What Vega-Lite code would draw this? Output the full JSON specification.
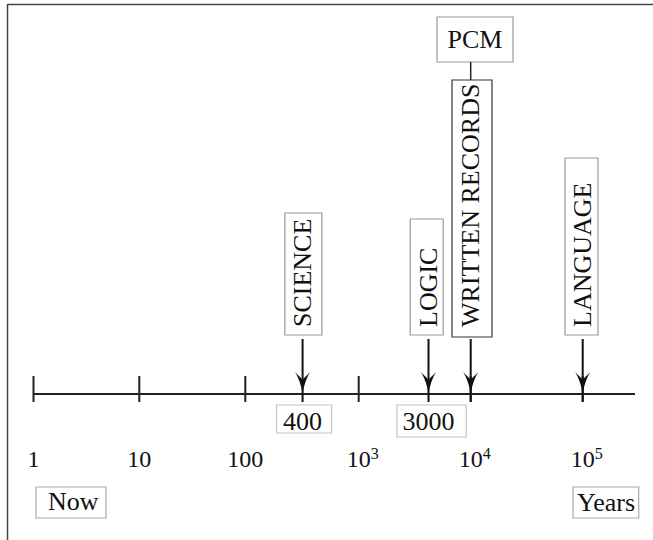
{
  "$schema": "https://vega.github.io/schema/vega-lite/v6.json",
  "autosize": {"type": "none"},
  "width": 646,
  "height": 536,
  "padding": {"left": 7, "top": 4, "right": 0, "bottom": 0},
  "config": {"view": {"stroke": null}, "text": {"font": "Liberation Serif", "fill": "#111"}},
  "datasets": {
    "one": [{}],
    "ticks": [
      {"years": 1, "base": "1"},
      {"years": 10, "base": "10"},
      {"years": 100, "base": "100"},
      {"years": 1000, "base": "10", "exp": "3"},
      {"years": 10000, "base": "10", "exp": "4"},
      {"years": 100000, "base": "10", "exp": "5"}
    ],
    "events": [
      {"event": "SCIENCE", "years": 320, "ago": "400"},
      {"event": "LOGIC", "years": 4200, "ago": "3000"},
      {"event": "WRITTEN RECORDS", "years": 10000, "note": "PCM"},
      {"event": "LANGUAGE", "years": 100000}
    ],
    "ends": [
      {"years": 1, "label": "Now"},
      {"years": 100000, "label": "Years"}
    ]
  },
  "layer": [
    {
      "data": {"name": "one"},
      "mark": {"type": "rule", "stroke": "#444", "strokeWidth": 1.5},
      "encoding": {
        "x": {"datum": 0.568, "type": "quantitative", "scale": {"type": "log", "domain": [1, 10, 100, 1000, 10000, 100000], "range": [26.5, 132.3, 238.3, 351.7, 463.7, 575.7], "nice": false}, "axis": null},
        "y": {"datum": -150, "type": "quantitative", "scale": {"domain": [-146, 390], "nice": false, "zero": false}, "axis": null},
        "y2": {"datum": 390}
      }
    },
    {
      "data": {"name": "one"},
      "mark": {"type": "rule", "stroke": "#444", "strokeWidth": 1.5},
      "encoding": {
        "x": {"datum": 0.568, "type": "quantitative", "scale": {"type": "log", "domain": [1, 10, 100, 1000, 10000, 100000], "range": [26.5, 132.3, 238.3, 351.7, 463.7, 575.7], "nice": false}, "axis": null},
        "x2": {"datum": 1000000},
        "y": {"datum": 389.5, "type": "quantitative", "scale": {"domain": [-146, 390], "nice": false, "zero": false}, "axis": null}
      }
    },
    {
      "data": {"name": "one"},
      "mark": {"type": "rule", "stroke": "#222", "strokeWidth": 2},
      "encoding": {
        "x": {"datum": 1, "type": "quantitative", "scale": {"type": "log", "domain": [1, 10, 100, 1000, 10000, 100000], "range": [26.5, 132.3, 238.3, 351.7, 463.7, 575.7], "nice": false}, "axis": null},
        "x2": {"datum": 293000},
        "y": {"datum": 0, "type": "quantitative", "scale": {"domain": [-146, 390], "nice": false, "zero": false}, "axis": null}
      }
    },
    {
      "data": {"name": "ticks"},
      "mark": {"type": "rule", "stroke": "#222", "strokeWidth": 2},
      "encoding": {
        "x": {"field": "years", "type": "quantitative", "scale": {"type": "log", "domain": [1, 10, 100, 1000, 10000, 100000], "range": [26.5, 132.3, 238.3, 351.7, 463.7, 575.7], "nice": false}, "axis": null},
        "y": {"datum": -8, "type": "quantitative", "scale": {"domain": [-146, 390], "nice": false, "zero": false}, "axis": null},
        "y2": {"datum": 18}
      }
    },
    {
      "data": {"name": "ticks"},
      "mark": {"type": "text", "fontSize": 24, "align": "center", "baseline": "alphabetic"},
      "encoding": {
        "x": {"field": "years", "type": "quantitative", "scale": {"type": "log", "domain": [1, 10, 100, 1000, 10000, 100000], "range": [26.5, 132.3, 238.3, 351.7, 463.7, 575.7], "nice": false}, "axis": null},
        "y": {"datum": -73, "type": "quantitative", "scale": {"domain": [-146, 390], "nice": false, "zero": false}, "axis": null},
        "text": {"field": "base"}
      }
    },
    {
      "data": {"name": "ticks"},
      "transform": [{"filter": "datum.exp != null"}],
      "mark": {"type": "text", "fontSize": 16, "align": "left", "baseline": "alphabetic", "dx": 12, "dy": -8},
      "encoding": {
        "x": {"field": "years", "type": "quantitative", "scale": {"type": "log", "domain": [1, 10, 100, 1000, 10000, 100000], "range": [26.5, 132.3, 238.3, 351.7, 463.7, 575.7], "nice": false}, "axis": null},
        "y": {"datum": -73, "type": "quantitative", "scale": {"domain": [-146, 390], "nice": false, "zero": false}, "axis": null},
        "text": {"field": "exp"}
      }
    },
    {
      "data": {"name": "events"},
      "mark": {"type": "rule", "stroke": "#111", "strokeWidth": 2},
      "encoding": {
        "x": {"field": "years", "type": "quantitative", "scale": {"type": "log", "domain": [1, 10, 100, 1000, 10000, 100000], "range": [26.5, 132.3, 238.3, 351.7, 463.7, 575.7], "nice": false}, "axis": null},
        "y": {"datum": -8, "type": "quantitative", "scale": {"domain": [-146, 390], "nice": false, "zero": false}, "axis": null},
        "y2": {"datum": 55}
      }
    },
    {
      "data": {"name": "events"},
      "mark": {"type": "point", "shape": "M0,0 C-1,-8 -4,-16 -7.5,-22 C-4,-18 -1,-16 0,-14 C1,-16 4,-18 7.5,-22 C4,-16 1,-8 0,0 Z", "size": 4, "filled": true, "fill": "#111", "stroke": null, "opacity": 1},
      "encoding": {
        "x": {"field": "years", "type": "quantitative", "scale": {"type": "log", "domain": [1, 10, 100, 1000, 10000, 100000], "range": [26.5, 132.3, 238.3, 351.7, 463.7, 575.7], "nice": false}, "axis": null},
        "y": {"datum": 0, "type": "quantitative", "scale": {"domain": [-146, 390], "nice": false, "zero": false}, "axis": null}
      }
    },
    {
      "data": {"name": "events"},
      "mark": {"type": "text", "fontSize": 26, "angle": 270, "align": "left", "baseline": "middle"},
      "encoding": {
        "x": {"field": "years", "type": "quantitative", "scale": {"type": "log", "domain": [1, 10, 100, 1000, 10000, 100000], "range": [26.5, 132.3, 238.3, 351.7, 463.7, 575.7], "nice": false}, "axis": null},
        "y": {"datum": 67, "type": "quantitative", "scale": {"domain": [-146, 390], "nice": false, "zero": false}, "axis": null},
        "text": {"field": "event"}
      }
    },
    {
      "data": {"name": "events"},
      "transform": [{"filter": "datum.event === 'SCIENCE'"}],
      "mark": {"type": "rect", "filled": false, "stroke": "#999", "strokeWidth": 1.2, "xOffset": -17.7, "x2Offset": 19.3},
      "encoding": {
        "x": {"field": "years", "type": "quantitative", "scale": {"type": "log", "domain": [1, 10, 100, 1000, 10000, 100000], "range": [26.5, 132.3, 238.3, 351.7, 463.7, 575.7], "nice": false}, "axis": null},
        "x2": {"field": "years"},
        "y": {"datum": 59, "type": "quantitative", "scale": {"domain": [-146, 390], "nice": false, "zero": false}, "axis": null},
        "y2": {"datum": 181}
      }
    },
    {
      "data": {"name": "events"},
      "transform": [{"filter": "datum.event === 'LOGIC'"}],
      "mark": {"type": "rect", "filled": false, "stroke": "#999", "strokeWidth": 1.2, "xOffset": -18.3, "x2Offset": 14.7},
      "encoding": {
        "x": {"field": "years", "type": "quantitative", "scale": {"type": "log", "domain": [1, 10, 100, 1000, 10000, 100000], "range": [26.5, 132.3, 238.3, 351.7, 463.7, 575.7], "nice": false}, "axis": null},
        "x2": {"field": "years"},
        "y": {"datum": 59, "type": "quantitative", "scale": {"domain": [-146, 390], "nice": false, "zero": false}, "axis": null},
        "y2": {"datum": 175}
      }
    },
    {
      "data": {"name": "events"},
      "transform": [{"filter": "datum.event === 'WRITTEN RECORDS'"}],
      "mark": {"type": "rect", "filled": false, "stroke": "#333", "strokeWidth": 1.2, "xOffset": -18.7, "x2Offset": 21.3},
      "encoding": {
        "x": {"field": "years", "type": "quantitative", "scale": {"type": "log", "domain": [1, 10, 100, 1000, 10000, 100000], "range": [26.5, 132.3, 238.3, 351.7, 463.7, 575.7], "nice": false}, "axis": null},
        "x2": {"field": "years"},
        "y": {"datum": 57, "type": "quantitative", "scale": {"domain": [-146, 390], "nice": false, "zero": false}, "axis": null},
        "y2": {"datum": 314}
      }
    },
    {
      "data": {"name": "events"},
      "transform": [{"filter": "datum.event === 'LANGUAGE'"}],
      "mark": {"type": "rect", "filled": false, "stroke": "#999", "strokeWidth": 1.2, "xOffset": -17.7, "x2Offset": 15.3},
      "encoding": {
        "x": {"field": "years", "type": "quantitative", "scale": {"type": "log", "domain": [1, 10, 100, 1000, 10000, 100000], "range": [26.5, 132.3, 238.3, 351.7, 463.7, 575.7], "nice": false}, "axis": null},
        "x2": {"field": "years"},
        "y": {"datum": 59, "type": "quantitative", "scale": {"domain": [-146, 390], "nice": false, "zero": false}, "axis": null},
        "y2": {"datum": 236}
      }
    },
    {
      "data": {"name": "events"},
      "transform": [{"filter": "datum.note != null"}],
      "mark": {"type": "rect", "filled": false, "stroke": "#999", "strokeWidth": 1.2, "xOffset": -33.7, "x2Offset": 42.3},
      "encoding": {
        "x": {"field": "years", "type": "quantitative", "scale": {"type": "log", "domain": [1, 10, 100, 1000, 10000, 100000], "range": [26.5, 132.3, 238.3, 351.7, 463.7, 575.7], "nice": false}, "axis": null},
        "x2": {"field": "years"},
        "y": {"datum": 332, "type": "quantitative", "scale": {"domain": [-146, 390], "nice": false, "zero": false}, "axis": null},
        "y2": {"datum": 377}
      }
    },
    {
      "data": {"name": "events"},
      "transform": [{"filter": "datum.note != null"}],
      "mark": {"type": "rule", "stroke": "#222", "strokeWidth": 1.5},
      "encoding": {
        "x": {"field": "years", "type": "quantitative", "scale": {"type": "log", "domain": [1, 10, 100, 1000, 10000, 100000], "range": [26.5, 132.3, 238.3, 351.7, 463.7, 575.7], "nice": false}, "axis": null},
        "y": {"datum": 314, "type": "quantitative", "scale": {"domain": [-146, 390], "nice": false, "zero": false}, "axis": null},
        "y2": {"datum": 332}
      }
    },
    {
      "data": {"name": "events"},
      "transform": [{"filter": "datum.note != null"}],
      "mark": {"type": "text", "fontSize": 26, "align": "center", "baseline": "middle", "dx": 4.3},
      "encoding": {
        "x": {"field": "years", "type": "quantitative", "scale": {"type": "log", "domain": [1, 10, 100, 1000, 10000, 100000], "range": [26.5, 132.3, 238.3, 351.7, 463.7, 575.7], "nice": false}, "axis": null},
        "y": {"datum": 354, "type": "quantitative", "scale": {"domain": [-146, 390], "nice": false, "zero": false}, "axis": null},
        "text": {"field": "note"}
      }
    },
    {
      "data": {"name": "events"},
      "transform": [{"filter": "datum.ago != null"}],
      "mark": {"type": "text", "fontSize": 26, "align": "center", "baseline": "alphabetic"},
      "encoding": {
        "x": {"field": "years", "type": "quantitative", "scale": {"type": "log", "domain": [1, 10, 100, 1000, 10000, 100000], "range": [26.5, 132.3, 238.3, 351.7, 463.7, 575.7], "nice": false}, "axis": null},
        "y": {"datum": -36, "type": "quantitative", "scale": {"domain": [-146, 390], "nice": false, "zero": false}, "axis": null},
        "text": {"field": "ago"}
      }
    },
    {
      "data": {"name": "events"},
      "transform": [{"filter": "datum.ago === '400'"}],
      "mark": {"type": "rect", "filled": false, "stroke": "#c4c4c4", "strokeWidth": 1.2, "xOffset": -26, "x2Offset": 29},
      "encoding": {
        "x": {"field": "years", "type": "quantitative", "scale": {"type": "log", "domain": [1, 10, 100, 1000, 10000, 100000], "range": [26.5, 132.3, 238.3, 351.7, 463.7, 575.7], "nice": false}, "axis": null},
        "x2": {"field": "years"},
        "y": {"datum": -11, "type": "quantitative", "scale": {"domain": [-146, 390], "nice": false, "zero": false}, "axis": null},
        "y2": {"datum": -39}
      }
    },
    {
      "data": {"name": "events"},
      "transform": [{"filter": "datum.ago === '3000'"}],
      "mark": {"type": "rect", "filled": false, "stroke": "#c4c4c4", "strokeWidth": 1.2, "xOffset": -31.6, "x2Offset": 37.7},
      "encoding": {
        "x": {"field": "years", "type": "quantitative", "scale": {"type": "log", "domain": [1, 10, 100, 1000, 10000, 100000], "range": [26.5, 132.3, 238.3, 351.7, 463.7, 575.7], "nice": false}, "axis": null},
        "x2": {"field": "years"},
        "y": {"datum": -11, "type": "quantitative", "scale": {"domain": [-146, 390], "nice": false, "zero": false}, "axis": null},
        "y2": {"datum": -43}
      }
    },
    {
      "data": {"name": "ends"},
      "transform": [{"filter": "datum.label === 'Now'"}],
      "mark": {"type": "text", "fontSize": 26, "align": "left", "baseline": "alphabetic", "dx": 14.5},
      "encoding": {
        "x": {"field": "years", "type": "quantitative", "scale": {"type": "log", "domain": [1, 10, 100, 1000, 10000, 100000], "range": [26.5, 132.3, 238.3, 351.7, 463.7, 575.7], "nice": false}, "axis": null},
        "y": {"datum": -116, "type": "quantitative", "scale": {"domain": [-146, 390], "nice": false, "zero": false}, "axis": null},
        "text": {"field": "label"}
      }
    },
    {
      "data": {"name": "ends"},
      "transform": [{"filter": "datum.label === 'Now'"}],
      "mark": {"type": "rect", "filled": false, "stroke": "#aaa", "strokeWidth": 1.2, "xOffset": 2.5, "x2Offset": 72.5},
      "encoding": {
        "x": {"field": "years", "type": "quantitative", "scale": {"type": "log", "domain": [1, 10, 100, 1000, 10000, 100000], "range": [26.5, 132.3, 238.3, 351.7, 463.7, 575.7], "nice": false}, "axis": null},
        "x2": {"field": "years"},
        "y": {"datum": -93, "type": "quantitative", "scale": {"domain": [-146, 390], "nice": false, "zero": false}, "axis": null},
        "y2": {"datum": -124}
      }
    },
    {
      "data": {"name": "ends"},
      "transform": [{"filter": "datum.label === 'Years'"}],
      "mark": {"type": "text", "fontSize": 26, "align": "left", "baseline": "alphabetic", "dx": -5.7},
      "encoding": {
        "x": {"field": "years", "type": "quantitative", "scale": {"type": "log", "domain": [1, 10, 100, 1000, 10000, 100000], "range": [26.5, 132.3, 238.3, 351.7, 463.7, 575.7], "nice": false}, "axis": null},
        "y": {"datum": -117, "type": "quantitative", "scale": {"domain": [-146, 390], "nice": false, "zero": false}, "axis": null},
        "text": {"field": "label"}
      }
    },
    {
      "data": {"name": "ends"},
      "transform": [{"filter": "datum.label === 'Years'"}],
      "mark": {"type": "rect", "filled": false, "stroke": "#aaa", "strokeWidth": 1.2, "xOffset": -9.7, "x2Offset": 56},
      "encoding": {
        "x": {"field": "years", "type": "quantitative", "scale": {"type": "log", "domain": [1, 10, 100, 1000, 10000, 100000], "range": [26.5, 132.3, 238.3, 351.7, 463.7, 575.7], "nice": false}, "axis": null},
        "x2": {"field": "years"},
        "y": {"datum": -93, "type": "quantitative", "scale": {"domain": [-146, 390], "nice": false, "zero": false}, "axis": null},
        "y2": {"datum": -124}
      }
    }
  ]
}
